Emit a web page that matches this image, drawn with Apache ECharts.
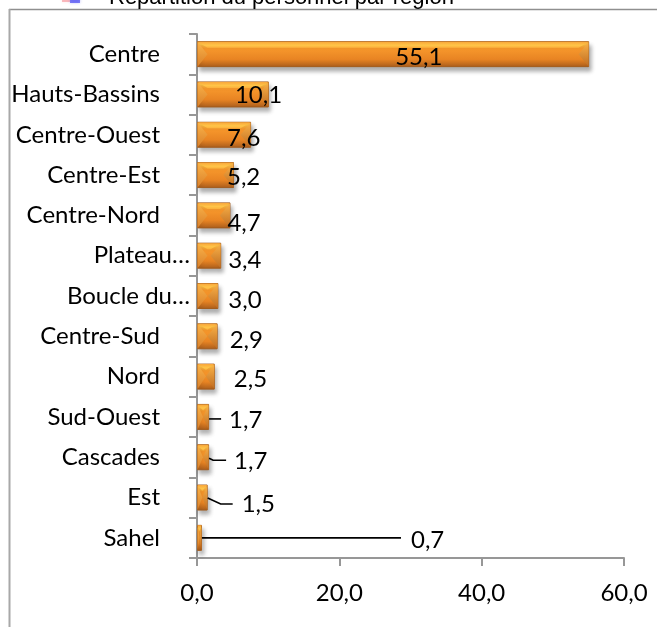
<!DOCTYPE html>
<html><head><meta charset="utf-8">
<style>html,body{margin:0;padding:0;background:#fff}#c{width:657px;height:627px}</style>
<script src="https://cdn.jsdelivr.net/npm/echarts@6/dist/echarts.min.js"></script>
</head><body><div id="c"></div>
<script>
const titleText = 'Répartition du personnel par région';
const categories = ['Centre','Hauts-Bassins','Centre-Ouest','Centre-Est','Centre-Nord','Plateau…','Boucle du…','Centre-Sud','Nord','Sud-Ouest','Cascades','Est','Sahel'];
const values = [55.1,10.1,7.6,5.2,4.7,3.4,3.0,2.9,2.5,1.7,1.7,1.5,0.7];
const valueTicks = {min:0,max:60,interval:20};
// label placement, offset from the bar end / bar centre (layout only)
const labelDx = [-194,-34,-24,-7,-3,7,10,12,19,20,25,34,209];
const labelDy = [3,1,3,2,8,5,4,4,3,3,4,7,2];
const truncated = [0,0,0,0,0,1,1,0,0,0,0,0,0];
// leader-line bends, offset from the bar end / bar centre (layout only)
const leaderBends = {
  9:[[0,2],[12,2]],
  10:[[0,1],[4,3],[17,3]],
  11:[[0,0.5],[13,6.5],[25,6.5]],
  12:[[0,0],[199,0]]
};

const fontUi = 'Lato, "Open Sans", sans-serif';
const fmt = v => v.toFixed(1).replace('.',',');
const chart = echarts.init(document.getElementById('c'),null,{renderer:'canvas'});
const grey = '#979797';
const bodyGrad = new echarts.graphic.LinearGradient(0,0,0,1,[
  {offset:0,color:'#F9A63A'},{offset:0.12,color:'#FFC548'},{offset:0.28,color:'#F7982C'},
  {offset:0.7,color:'#E88423'},{offset:1,color:'#A85C1C'}]);

chart.setOption({
  animation:false,
  backgroundColor:'#fff',
  title:{text:titleText,left:109,top:-13,padding:0,textStyle:{fontFamily:'"Liberation Sans"',fontWeight:'normal',fontSize:22,color:'#000'}},
  grid:{left:197,right:33,top:34,bottom:69,containLabel:false},
  xAxis:{type:'value',min:valueTicks.min,max:valueTicks.max,interval:valueTicks.interval,
    splitLine:{show:false},
    axisLine:{show:true,lineStyle:{color:grey,width:2}},
    axisTick:{show:true,length:8,lineStyle:{color:grey,width:2}},
    axisLabel:{formatter:fmt,margin:23,fontFamily:fontUi,fontSize:24,color:'#000'}},
  yAxis:{type:'category',inverse:true,
    data:categories.map((c,i)=>({value:c,textStyle:{padding:[0,truncated[i]?0:30,0,0]}})),
    axisLine:{show:true,lineStyle:{color:grey,width:2}},
    axisTick:{show:true,length:8,lineStyle:{color:grey,width:2}},
    axisLabel:{margin:7,fontFamily:fontUi,fontSize:24,color:'#000'}},
  series:[
    {type:'bar',barWidth:26,barGap:'-100%',z:2,data:values,
     itemStyle:{color:bodyGrad,borderColor:'#A25C1E',borderWidth:1,shadowColor:'rgba(0,0,0,0.3)',shadowBlur:4,shadowOffsetY:4,shadowOffsetX:2}
    },
    {type:'custom',z:3,silent:true,data:values.map((v,i)=>[v,i]),encode:{x:0,y:1},
     renderItem:(params,api)=>{
       const i=api.value(1);
       const e=api.coord([api.value(0),i]);
       const s=api.coord([0,i]);
       const x0=s[0]+0.5,x1=e[0]-0.5,t=e[1]-12.5,b=e[1]+12.5,c=e[1];
       const d=Math.min(10,(x1-x0)/2);
       const children=[
         {type:'polygon',shape:{points:[[x0,t],[x1,t],[x1-d,t+6],[x0+d,t+6]]},style:{fill:new echarts.graphic.LinearGradient(0,0,0,1,[{offset:0,color:'#F9A63A'},{offset:0.6,color:'#FFC548'},{offset:1,color:'#FCB03C'}])}},
         {type:'polygon',shape:{points:[[x0,t],[x0+d,c],[x0,b]]},style:{fill:new echarts.graphic.LinearGradient(0,0,0,1,[{offset:0,color:'#FBB348'},{offset:1,color:'#D9802A'}])}},
         {type:'polygon',shape:{points:[[x1,t],[x1-d,c],[x1,b]]},style:{fill:new echarts.graphic.LinearGradient(0,0,0,1,[{offset:0,color:'#FBB348'},{offset:1,color:'#BE6C22'}])}}
       ];
       if(leaderBends[i]) children.push({type:'polyline',shape:{points:leaderBends[i].map(p=>[e[0]+p[0],e[1]+p[1]])},style:{fill:null,stroke:'#000',lineWidth:1.6}});
       return {type:'group',silent:true,children};
     }},
    {type:'bar',barWidth:26,barGap:'-100%',z:5,silent:true,data:values,
     itemStyle:{color:'rgba(0,0,0,0)'},
     label:{show:true,position:'right',distance:0,formatter:p=>fmt(p.value),fontFamily:fontUi,fontSize:24,color:'#000'},
     labelLayout:p=>({dx:labelDx[p.dataIndex],dy:labelDy[p.dataIndex]})
    }
  ],
  graphic:[
    {type:'line',silent:true,shape:{x1:9,y1:9.5,x2:657,y2:9.5},style:{stroke:'#8f8f8f',lineWidth:1.5}},
    {type:'line',silent:true,shape:{x1:9.5,y1:9,x2:9.5,y2:627},style:{stroke:'#a8a8a8',lineWidth:2}},
    {type:'rect',silent:true,shape:{x:62,y:-2,width:8,height:4},style:{fill:'rgba(240,80,90,0.35)',shadowBlur:3,shadowColor:'rgba(240,80,90,0.4)'}},
    {type:'rect',silent:true,shape:{x:70,y:-2,width:10,height:5},style:{fill:'rgba(50,50,240,0.6)',shadowBlur:3,shadowColor:'rgba(50,50,240,0.5)'}}
  ]
});
</script></body></html>
